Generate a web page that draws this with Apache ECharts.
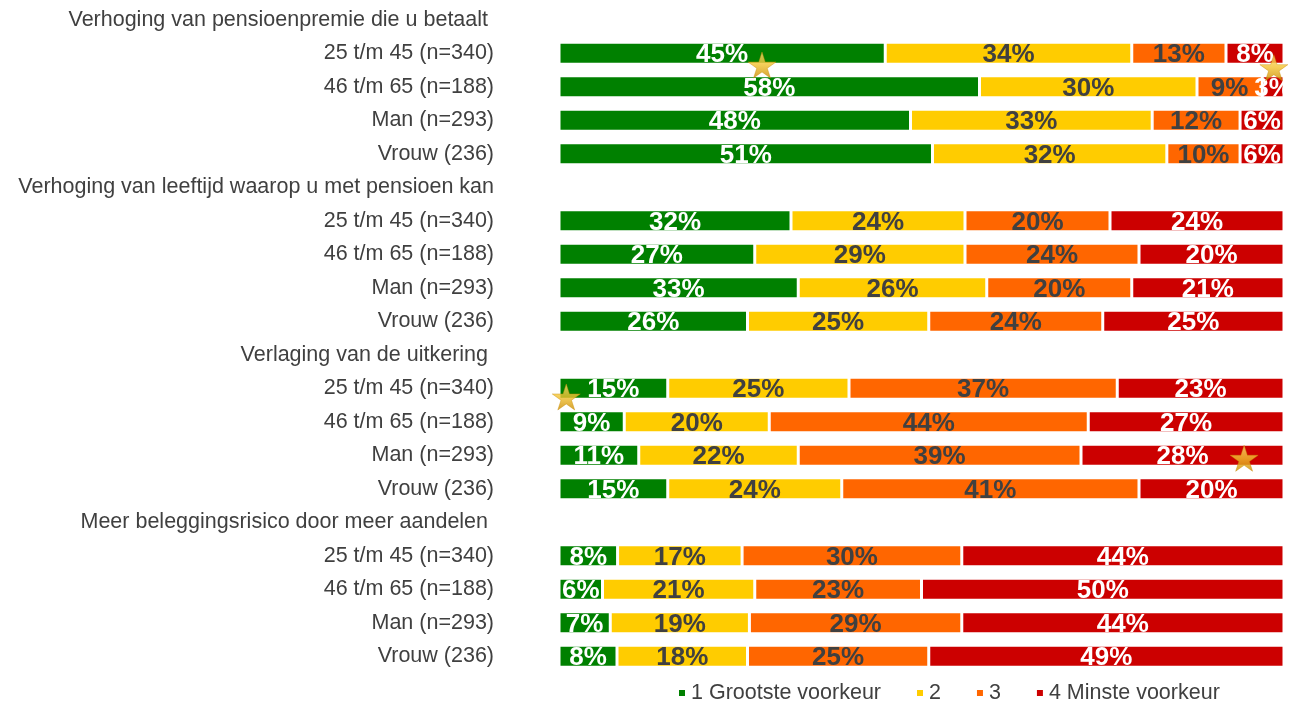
<!DOCTYPE html>
<html>
<head>
<meta charset="utf-8">
<script src="https://cdn.jsdelivr.net/npm/echarts@6/dist/echarts.min.js"></script>
<style>
  html, body { margin: 0; padding: 0; background: #fff; }
  #chart { width: 1295px; height: 703px; }
</style>
</head>
<body>
<div id="chart"></div>
<script>
// rows from top to bottom; header rows have no bar
var categories = [
  'Verhoging van pensioenpremie die u betaalt ',
  '25 t/m 45 (n=340)', '46 t/m 65 (n=188)', 'Man (n=293)', 'Vrouw (236)',
  'Verhoging van leeftijd waarop u met pensioen kan',
  '25 t/m 45 (n=340)', '46 t/m 65 (n=188)', 'Man (n=293)', 'Vrouw (236)',
  'Verlaging van de uitkering ',
  '25 t/m 45 (n=340)', '46 t/m 65 (n=188)', 'Man (n=293)', 'Vrouw (236)',
  'Meer beleggingsrisico door meer aandelen ',
  '25 t/m 45 (n=340)', '46 t/m 65 (n=188)', 'Man (n=293)', 'Vrouw (236)'
]
var seriesNames = ['1 Grootste voorkeur', '2', '3', '4 Minste voorkeur']
var voorkeur1 = [null, 45, 58, 48, 51, null, 32, 27, 33, 26, null, 15, 9, 11, 15, null, 8, 6, 7, 8]
var voorkeur2 = [null, 34, 30, 33, 32, null, 24, 29, 26, 25, null, 25, 20, 22, 24, null, 17, 21, 19, 18]
var voorkeur3 = [null, 13, 9, 12, 10, null, 20, 24, 20, 24, null, 37, 44, 39, 41, null, 30, 23, 29, 25]
var voorkeur4 = [null, 8, 3, 6, 6, null, 24, 20, 21, 25, null, 23, 27, 28, 20, null, 44, 50, 44, 49]
// significance stars: [percent position, row position]
var stars = [[28, 1.35], [98.6, 1.43], [1, 11.26], [94.5, 13.09]]

var colors = ['#008000', '#FFCC00', '#FF6600', '#CC0000']
var labelColors = ['#ffffff', '#404040', '#404040', '#ffffff']
var raw = [voorkeur1, voorkeur2, voorkeur3, voorkeur4]

// 100% stacked: scale each row to its total
var totals = categories.map(function (c, i) {
  return raw.reduce(function (s, arr) { return s + (arr[i] || 0) }, 0)
})

var chart = echarts.init(document.getElementById('chart'))

var series = raw.map(function (arr, k) {
  return {
    name: seriesNames[k],
    type: 'bar',
    stack: 'total',
    barWidth: 22,
    color: colors[k],
    itemStyle: { borderColor: '#ffffff', borderWidth: 1.5 },
    label: {
      show: true,
      position: 'inside',
      offset: [0, 2],
      color: labelColors[k],
      fontSize: 26,
      fontWeight: 'bold',
      fontFamily: 'Liberation Sans, Arial, sans-serif',
      formatter: function (p) { return arr[p.dataIndex] + '%' }
    },
    data: arr.map(function (v, i) {
      return v == null ? '-' : v / totals[i] * 100
    })
  }
})

var starGradient = new echarts.graphic.LinearGradient(0, 0, 0, 1, [
  { offset: 0, color: '#FFE27A' },
  { offset: 0.5, color: '#F2C12E' },
  { offset: 1, color: '#C98A00' }
])

series.push({
  name: 'ster',
  type: 'scatter',
  yAxisIndex: 1,
  symbol: 'path://M50,0 L61,35 L98,35 L68,57 L79,91 L50,70 L21,91 L32,57 L2,35 L39,35 Z',
  symbolSize: [28, 26],
  itemStyle: { color: starGradient, borderColor: '#C98A00', borderWidth: 0.5 },
  z: 10,
  data: stars
})

chart.setOption({
  animation: false,
  textStyle: { fontFamily: 'Liberation Sans, Arial, sans-serif' },
  grid: { left: 559, right: 11, top: 3, bottom: 30 },
  legend: {
    data: seriesNames,
    left: 672,
    top: 677,
    icon: 'rect',
    itemWidth: 8,
    itemHeight: 8,
    itemGap: 34,
    textStyle: { fontSize: 21.5, color: '#404040' }
  },
  xAxis: {
    type: 'value',
    min: 0,
    max: 100,
    show: false
  },
  yAxis: [
    {
      type: 'category',
      inverse: true,
      data: categories,
      axisLine: { show: false },
      axisTick: { show: false },
      axisLabel: { fontSize: 21.5, color: '#404040', margin: 65 }
    },
    {
      type: 'value',
      inverse: true,
      min: -0.5,
      max: 19.5,
      show: false
    }
  ],
  series: series
})
</script>
</body>
</html>
